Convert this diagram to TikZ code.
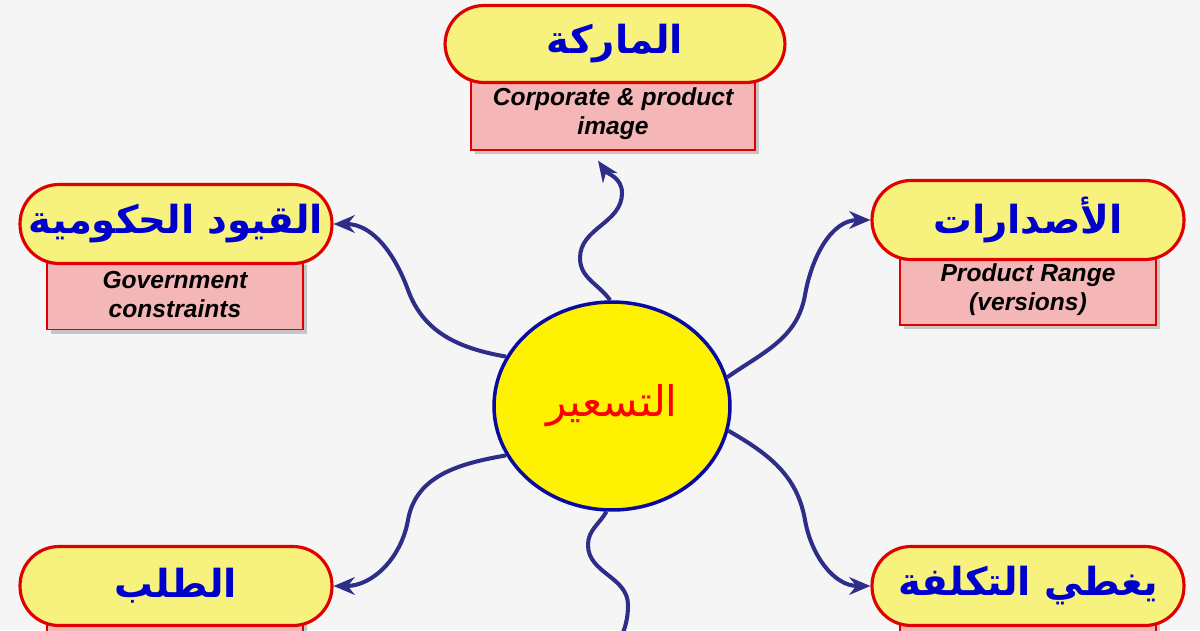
\documentclass[tikz,border=0pt]{standalone}
\usepackage{fontspec}
\usetikzlibrary{arrows.meta, shapes.geometric, shadows}
\newfontfamily\arabicfont[Script=Arabic]{DejaVu Sans}
\newfontfamily\latinfont{Liberation Sans}
\TeXXeTstate=1
\definecolor{paper}{HTML}{F5F5F5}
\definecolor{pillfill}{HTML}{F7F27E}
\definecolor{pillred}{HTML}{E00000}
\definecolor{notepink}{HTML}{F4B6B6}
\definecolor{arabicblue}{HTML}{0000CC}
\definecolor{linkblue}{HTML}{2E2E88}
\definecolor{hubblue}{HTML}{0A0AA0}

\begin{document}
\begin{tikzpicture}[x=0.02cm, y=0.02cm,
    pill/.style={draw=pillred, line width=1.8pt, fill=pillfill, rounded corners=0.78cm,
      minimum width=6.24cm, minimum height=1.58cm, inner sep=0pt, text=arabicblue,
      font=\arabicfont\bfseries\fontsize{22}{26}\selectfont},
    note/.style={draw=pillred, line width=0.8pt, fill=notepink, minimum width=5.12cm,
      minimum height=1.38cm, align=center, inner sep=0pt,
      font=\latinfont\bfseries\itshape\fontsize{14}{16.5}\selectfont,
      drop shadow={shadow xshift=2.5pt, shadow yshift=-2.5pt, opacity=0.4}},
    link/.style={draw=linkblue, line width=2.3pt, -{Stealth[length=12pt,width=10pt]}}]

      % Frame and background
      \clip (0,0) rectangle (1200,630);
      \fill[paper] (0,0) rectangle (1200,630);

      % Draw the notes under the pills
      \node[note, minimum width=5.68cm, minimum height=1.44cm] (brandnote) at (613,516) {Corporate \& product\\image};
      \node[note] (govtnote) at (175,335) {Government\\constraints};
      \node[note, minimum height=1.4cm] (rangenote) at (1028,340) {Product Range\\(versions)};
      \node[note, minimum height=1.4cm] (demandnote) at (175,-25) {};
      \node[note, minimum height=1.4cm] (costnote) at (1028,-25) {};

      % Draw the pills
      \node[pill, minimum width=6.8cm, minimum height=1.54cm] (brand) at (615,586) {\beginR الماركة\endR};
      \node[pill] (govt) at (176,406) {\beginR القيود الحكومية\endR};
      \node[pill] (range) at (1028,410) {\beginR الأصدارات\endR};
      \node[pill] (demand) at (176,44) {\beginR الطلب\endR};
      \node[pill] (cost) at (1028,44) {\beginR يغطي التكلفة\endR};

      % Draw the hub
      \node[ellipse, draw=hubblue, line width=2pt, fill=yellow, minimum width=4.72cm,
        minimum height=4.16cm, text=red, font=\arabicfont\fontsize{24}{28}\selectfont]
        (hub) at (612,224) {\beginR التسعير\endR};

      % Add the wavy links
      \coordinate (bottomend) at (612,-30);
      \draw[link] (hub.91) to[out=125,in=-90] (580,372) to[out=90,in=-90] (622,437)
        to[out=90,in=-55] ([shift={(-15,-10)}]brandnote.south);
      \draw[link] (hub.155) to[out=170,in=-70] (408,340) to[out=110,in=0] (govt.east);
      \draw[link] (hub.14) to[out=35,in=-100] (805,335) to[out=80,in=180] (range.west);
      \draw[link] (hub.205) to[out=190,in=80] (408,110) to[out=-100,in=0] (demand.east);
      \draw[link] (hub.-12) to[out=-30,in=100] (805,110) to[out=-80,in=180] (cost.west);
      \draw[link] (hub.267) to[out=-120,in=90] (588,85) to[out=-90,in=90] (628,25)
        to[out=-90,in=70] (bottomend);
    \end{tikzpicture}
\end{document}
